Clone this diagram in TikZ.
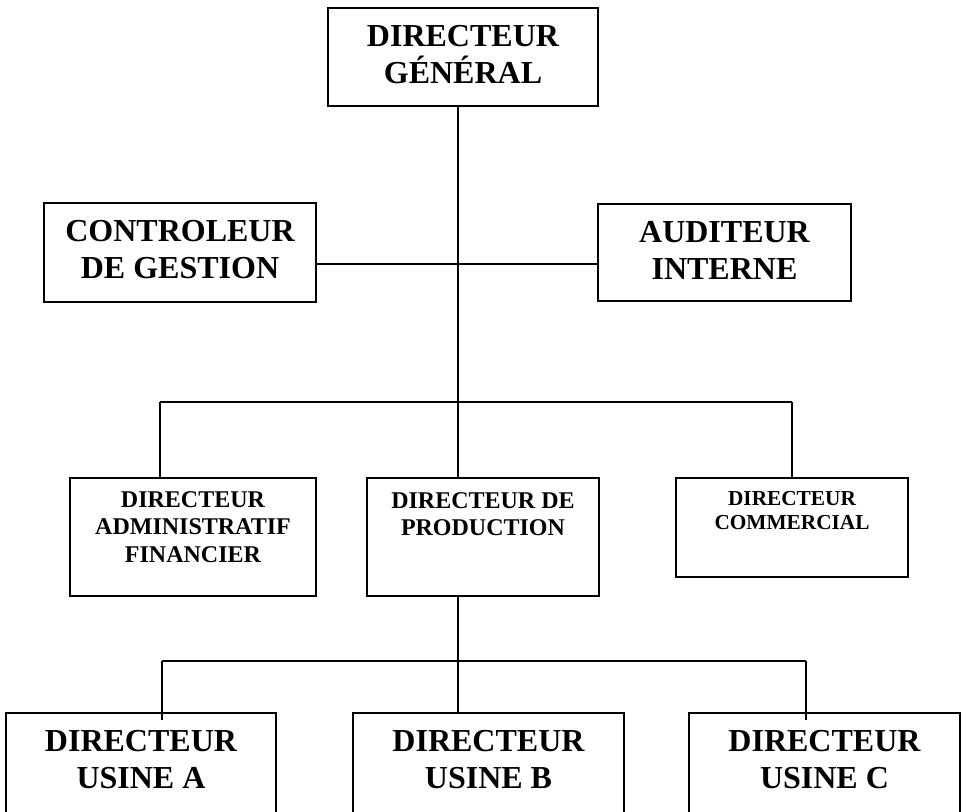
\documentclass[tikz,border=0pt]{standalone}
\usepackage{fontspec}
\setmainfont{Liberation Serif}
\begin{document}
\begin{tikzpicture}[x=1pt,y=-1pt,
  frame/.style={draw=black,line width=1.8pt,rectangle,inner sep=0pt,fill=white},
  lbl/.style={inner sep=0pt,align=center,font=\bfseries\fontsize{32}{37.5}\selectfont},
  lblsmall/.style={inner sep=0pt,align=center,font=\bfseries\fontsize{24}{27.6}\selectfont},
  lbltiny/.style={inner sep=0pt,align=center,font=\bfseries\fontsize{21.3}{24.5}\selectfont},
  link/.style={draw=black,line width=1.8pt}]
\useasboundingbox (0,0) rectangle (966,811);
\clip (0,0) rectangle (966,811);

% boxes (centre, width, height)
\node[frame,minimum width=270pt,minimum height=98pt] (dg)  at (463,57)    {};
\node[frame,minimum width=272pt,minimum height=99pt] (cg)  at (180,252.5) {};
\node[frame,minimum width=253pt,minimum height=97pt] (ai)  at (724.5,252.5) {};
\node[frame,minimum width=246pt,minimum height=118pt] (daf) at (193,537)  {};
\node[frame,minimum width=232pt,minimum height=118pt] (dp)  at (483,537)  {};
\node[frame,minimum width=232pt,minimum height=99pt]  (dc)  at (792,527.5) {};
\node[frame,minimum width=270pt,minimum height=140pt] (ua)  at (141,783)  {};
\node[frame,minimum width=271pt,minimum height=140pt] (ub)  at (488.5,783) {};
\node[frame,minimum width=271pt,minimum height=140pt] (uc)  at (824.5,783) {};

% labels
\node[lbl,anchor=north] (tdg)  at ([yshift=-18pt]dg.north)  {DIRECTEUR\\GÉNÉRAL};
\node[lbl,anchor=north] (tcg)  at ([yshift=-18pt]cg.north)  {CONTROLEUR\\DE GESTION};
\node[lbl,anchor=north] (tai)  at ([yshift=-18pt]ai.north)  {AUDITEUR\\INTERNE};
\node[lblsmall,anchor=north] (tdaf) at ([yshift=-14pt]daf.north) {DIRECTEUR\\ADMINISTRATIF\\FINANCIER};
\node[lblsmall,anchor=north] (tdp)  at ([yshift=-15pt]dp.north)  {DIRECTEUR DE\\PRODUCTION};
\node[lbltiny,anchor=north] (tdc) at ([yshift=-14pt]dc.north) {DIRECTEUR\\COMMERCIAL};
\node[lbl,anchor=north] (tua)  at ([yshift=-18pt]ua.north)  {DIRECTEUR\\USINE A};
\node[lbl,anchor=north] (tub)  at ([yshift=-18pt]ub.north)  {DIRECTEUR\\USINE B};
\node[lbl,anchor=north] (tuc)  at ([yshift=-18pt]uc.north)  {DIRECTEUR\\USINE C};

% junction points
\coordinate (staff) at (458,264);
\coordinate (bar1)  at (458,402);
\coordinate (bar2)  at (458,661);
\coordinate (d1) at (160,402);
\coordinate (d3) at (792,402);
\coordinate (u1) at (162,661);
\coordinate (u3) at (806,661);

% connectors
\draw[link] (dg.south -| bar1) -- (bar1);
\draw[link] (cg.east |- staff) -- (ai.west |- staff);
\draw[link] (d1) -- (d3);
\draw[link] (d1) -- (daf.north -| d1);
\draw[link] (bar1) -- (dp.north -| bar1);
\draw[link] (d3) -- (dc.north -| d3);
\draw[link] (dp.south -| bar2) -- (bar2);
\draw[link] (u1) -- (u3);
\draw[link] (u1) -- ([yshift=-8pt]ua.north -| u1);
\draw[link] (bar2) -- (ub.north -| bar2);
\draw[link] (u3) -- ([yshift=-8pt]uc.north -| u3);
\end{tikzpicture}
\end{document}
